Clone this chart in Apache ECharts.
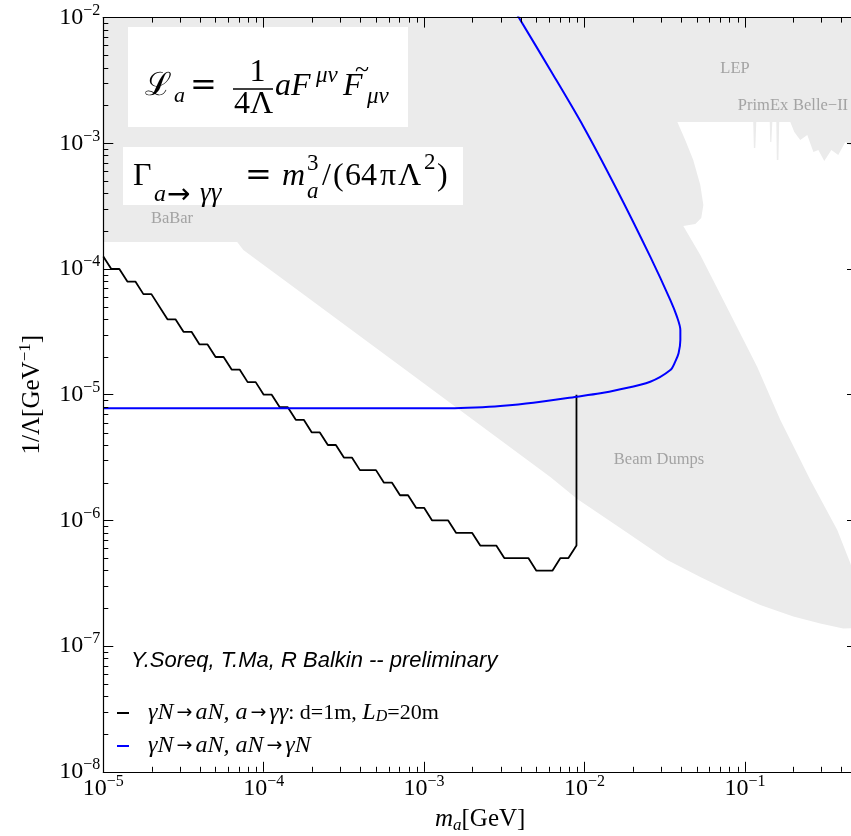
<!DOCTYPE html>
<html><head><meta charset="utf-8">
<script src="https://cdn.jsdelivr.net/npm/echarts@6/dist/echarts.min.js"></script>
<style>html,body{margin:0;padding:0;background:#fff}#c{width:851px;height:836px}</style>
</head><body><div id="c"></div>
<script>
// ---------------- data ----------------
const xMin = 1e-5, xMax = 0.5;
const yMin = 1e-8, yMax = 1e-2;
const xMajorTicks = [1e-5, 1e-4, 1e-3, 1e-2, 1e-1];
const yMajorTicks = [1e-8, 1e-7, 1e-6, 1e-5, 1e-4, 1e-3, 1e-2];

const blackName = 'γN→aN, a→γγ: d=1m, L_D=20m';
const blueName = 'γN→aN, aN→γN';

// m_a [GeV]
const blackMass = [1.000e-5, 1.122e-5, 1.259e-5, 1.413e-5, 1.585e-5, 1.778e-5, 1.995e-5, 2.512e-5, 2.818e-5, 3.162e-5,
  3.548e-5, 3.981e-5, 4.467e-5, 5.012e-5, 5.623e-5, 6.310e-5, 7.079e-5, 7.943e-5, 8.913e-5, 1.000e-4,
  1.122e-4, 1.259e-4, 1.413e-4, 1.585e-4, 1.778e-4, 1.995e-4, 2.239e-4, 2.512e-4, 2.818e-4, 3.162e-4,
  3.548e-4, 3.981e-4, 5.012e-4, 5.623e-4, 6.310e-4, 7.079e-4, 7.943e-4, 8.913e-4, 1.000e-3, 1.122e-3,
  1.413e-3, 1.585e-3, 1.995e-3, 2.239e-3, 2.818e-3, 3.162e-3, 4.467e-3, 5.012e-3, 6.310e-3, 7.079e-3,
  7.943e-3, 8.913e-3, 8.913e-3];
// 1/Lambda [GeV^-1]
const blackCoupling = [1.259e-4, 1.000e-4, 1.000e-4, 7.943e-5, 7.943e-5, 6.310e-5, 6.310e-5, 3.981e-5, 3.981e-5, 3.162e-5,
  3.162e-5, 2.512e-5, 2.512e-5, 1.995e-5, 1.995e-5, 1.585e-5, 1.585e-5, 1.259e-5, 1.259e-5, 1.000e-5,
  1.000e-5, 7.943e-6, 7.943e-6, 6.310e-6, 6.310e-6, 5.012e-6, 5.012e-6, 3.981e-6, 3.981e-6, 3.162e-6,
  3.162e-6, 2.512e-6, 2.512e-6, 1.995e-6, 1.995e-6, 1.585e-6, 1.585e-6, 1.259e-6, 1.259e-6, 1.000e-6,
  1.000e-6, 7.943e-7, 7.943e-7, 6.310e-7, 6.310e-7, 5.012e-7, 5.012e-7, 3.981e-7, 3.981e-7, 5.012e-7,
  5.012e-7, 6.310e-7, 1.000e-5];

const blueMass = [1.000e-5, 1.000e-3, 1.456e-3, 2.085e-3, 2.985e-3, 4.80e-3, 8.97e-3, 1.256e-2, 1.596e-2, 2.57e-2, 3.43e-2,
  3.68e-2, 3.86e-2, 3.96e-2, 3.96e-2, 3.77e-2, 3.43e-2, 2.57e-2, 1.596e-2, 9.86e-3, 6.12e-3, 3.81e-3];
const blueCoupling = [7.80e-6, 7.80e-6, 7.80e-6, 7.91e-6, 8.13e-6, 8.63e-6, 9.64e-6, 1.026e-5, 1.089e-5, 1.268e-5, 1.570e-5,
  1.832e-5, 2.133e-5, 2.722e-5, 3.27e-5, 4.18e-5, 5.66e-5, 1.253e-4, 4.25e-4, 1.355e-3, 3.83e-3, 1.05e-2];

// excluded region outline, as [log10 m_a, log10 1/Lambda]
const excludedRegionLog = [
  [-5.000, -2.000], [-0.300, -2.000], [-0.300, -2.974], [-0.337, -3.021], [-0.374, -2.990], [-0.418, -3.093],
  [-0.461, -3.053], [-0.505, -3.141], [-0.542, -3.053], [-0.573, -3.069], [-0.611, -2.934], [-0.655, -2.974],
  [-0.692, -2.910], [-0.717, -2.831], [-0.786, -2.831], [-0.791, -3.133], [-0.801, -3.133], [-0.804, -2.831],
  [-0.829, -2.831], [-0.835, -2.990], [-0.842, -2.990], [-0.845, -2.831], [-0.929, -2.831], [-0.935, -3.037],
  [-0.944, -3.037], [-0.948, -2.831], [-1.421, -2.831], [-1.372, -2.974], [-1.322, -3.133], [-1.278, -3.332],
  [-1.259, -3.491], [-1.272, -3.594], [-1.309, -3.642], [-1.384, -3.658], [-1.278, -3.889], [-1.135, -4.247],
  [-0.923, -4.780], [-0.779, -5.201], [-0.592, -5.679], [-0.424, -6.076], [-0.343, -6.339], [-0.300, -6.514],
  [-0.300, -6.856], [-0.387, -6.860], [-0.530, -6.820], [-0.698, -6.764], [-0.904, -6.673], [-1.072, -6.578],
  [-1.278, -6.450], [-1.484, -6.315], [-1.777, -6.060], [-2.045, -5.830], [-2.213, -5.655], [-3.148, -4.772],
  [-3.772, -4.183], [-4.127, -3.849], [-4.165, -3.785], [-5.000, -3.785]
];

// ---------------- helpers ----------------
const SERIF = "'Liberation Serif', 'Times New Roman', serif";
const SANS = "'Liberation Sans', Arial, sans-serif";
const ARROW = "'DejaVu Sans', sans-serif";
const zip = (a, b) => a.map((v, i) => [v, b[i]]);

const xMinorTicks = [];
for (let e = -5; e <= -1; e++) for (let m = 2; m <= 9; m++) { const v = m * Math.pow(10, e); if (v < xMax * 0.999) xMinorTicks.push(v); }
const yMinorTicks = [];
for (let e = -8; e <= -3; e++) for (let m = 2; m <= 9; m++) yMinorTicks.push(m * Math.pow(10, e));

function expLabel(ticks) {
  return function (v) {
    const lv = Math.log10(v);
    const hit = ticks.some(t => Math.abs(Math.log10(t) - lv) < 1e-6);
    if (!hit) return '';
    const e = Math.round(lv);
    return '{b|10}{s|' + (e < 0 ? '\u2212' + (-e) : String(e)) + '}';
  };
}
const labelRich = {
  b: { fontFamily: SERIF, fontSize: 24, lineHeight: 30, color: '#000' },
  s: { fontFamily: SERIF, fontSize: 16, verticalAlign: 'top', color: '#000' }
};
const axisBase = {
  type: 'log', logBase: 10,
  axisLine: { show: true, onZero: false, lineStyle: { color: '#000', width: 1.2 } },
  axisTick: { show: true, inside: true, length: 10, lineStyle: { color: '#000', width: 1 } },
  splitLine: { show: false }, minorTick: { show: false }, minorSplitLine: { show: false },
  z: 10, nameMoveOverlap: false
};

function T(text, x, y, size, o) {
  o = o || {};
  return {
    type: 'text', z: 6, silent: true,
    style: {
      text: text, x: x, y: y, fill: o.fill || '#000',
      fontFamily: o.family || SERIF, fontSize: size,
      fontStyle: o.italic ? 'italic' : 'normal',
      align: o.align || 'left', textAlign: o.align || 'left',
      verticalAlign: 'middle', textVerticalAlign: 'middle'
    }
  };
}
// y given as baseline -> convert to middle
function TB(text, x, base, size, o) { return T(text, x, base - 0.3375 * size, size, o); }

const DJ = "'DejaVu Serif', serif";
const grey = '#a3a3a3';

const graphics = [
  // formula boxes
  { type: 'rect', z: 4, silent: true, shape: { x: 128, y: 27, width: 280, height: 100 }, style: { fill: '#fff' } },
  { type: 'rect', z: 4, silent: true, shape: { x: 123, y: 147, width: 340, height: 58 }, style: { fill: '#fff' } },
  // L_a = 1/(4Λ) a F^{μν} F~_{μν}
  TB('ℒ', 145, 97, 32),
  TB('a', 174, 104, 22, { italic: true }),
  TB('=', 190, 97, 32, { family: DJ }),
  TB('1', 257.5, 83, 32, { align: 'center' }),
  { type: 'line', z: 6, silent: true, shape: { x1: 233, y1: 89, x2: 273, y2: 89 }, style: { stroke: '#000', lineWidth: 1.4 } },
  TB('4Λ', 253.5, 115, 32, { align: 'center' }),
  TB('aF', 275, 97, 32, { italic: true }),
  TB('μν', 316, 84, 23, { italic: true }),
  TB('F', 343, 97, 32, { italic: true }),
  T('~', 362, 70, 26, { align: 'center' }),
  TB('μν', 367, 105, 23, { italic: true }),
  // Γ_{a→γγ} = m_a^3/(64πΛ^2)
  TB('Γ', 133, 187, 32),
  TB('a', 154, 203, 24, { italic: true }),
  T('→', 167, 196, 28, { family: ARROW }),
  TB('γγ', 200, 203, 27, { italic: true }),
  TB('=', 245, 187, 32, { family: DJ }),
  TB('m', 282, 187, 32, { italic: true }),
  TB('3', 307, 172, 23),
  TB('a', 307, 200, 23, { italic: true }),
  TB('/', 322, 187, 32),
  TB('(', 333, 187, 32),
  TB('64', 345, 187, 32),
  TB('π', 380, 187, 32),
  TB('Λ', 398, 187, 32),
  TB('2', 424, 171, 23),
  TB(')', 437, 187, 32),
  // region labels
  T('LEP', 735, 69, 16.5, { align: 'center', fill: grey }),
  T('PrimEx', 763, 106, 16.5, { align: 'center', fill: grey }),
  T('Belle\u2212II', 793, 106, 16.5, { fill: grey }),
  T('BaBar', 172, 219, 16.5, { align: 'center', fill: grey }),
  T('Beam Dumps', 659, 460, 16.5, { align: 'center', fill: grey }),
  // credit
  T('Y.Soreq, T.Ma, R Balkin -- preliminary', 131, 661, 22, { italic: true, family: SANS })
];

const chart = echarts.init(document.getElementById('c'), null, { renderer: 'canvas', width: 851, height: 836 });
chart.setOption({
  animation: false,
  backgroundColor: '#fff',
  textStyle: { fontFamily: SERIF },
  grid: { left: 103.3, top: 17.6, width: 753.7, height: 754.2, outerBoundsMode: 'none', containLabel: false },
  xAxis: [
    Object.assign({}, axisBase, {
      position: 'bottom', min: xMin, max: xMax,
      axisLabel: { show: true, margin: 2, formatter: expLabel(xMajorTicks), rich: labelRich, showMaxLabel: false },
      name: '{i|m}{sub|a}{r|[GeV]}', nameLocation: 'middle', nameGap: 34,
      nameTextStyle: { rich: {
        i: { fontFamily: SERIF, fontSize: 25, fontStyle: 'italic', lineHeight: 28, color: '#000' },
        sub: { fontFamily: SERIF, fontSize: 17, fontStyle: 'italic', verticalAlign: 'bottom', color: '#000' },
        r: { fontFamily: SERIF, fontSize: 25, lineHeight: 28, color: '#000' } } }
    }),
    Object.assign({}, axisBase, { position: 'top', min: xMin, max: xMax, axisLabel: { show: false } })
  ],
  yAxis: [
    Object.assign({}, axisBase, {
      position: 'left', min: yMin, max: yMax,
      axisLabel: { show: true, margin: 3, formatter: expLabel(yMajorTicks), rich: labelRich },
      name: '{r|1/Λ[GeV}{s|\u22121}{r|]}', nameLocation: 'middle', nameGap: 56, nameRotate: 90,
      nameTextStyle: { rich: {
        r: { fontFamily: SERIF, fontSize: 25, lineHeight: 30, color: '#000' },
        s: { fontFamily: SERIF, fontSize: 17, verticalAlign: 'top', color: '#000' } } }
    }),
    Object.assign({}, axisBase, { position: 'right', min: yMin, max: yMax, axisLabel: { show: false } })
  ],
  legend: {
    data: [blackName, blueName], orient: 'vertical', left: 117, top: 701, padding: 0,
    itemWidth: 12, itemHeight: 2, itemGap: 9, icon: 'rect', selectedMode: false,
    textStyle: { color: '#000', fontFamily: SERIF, rich: {
      sp: { width: 14 },
      i: { fontFamily: SERIF, fontSize: 24, fontStyle: 'italic', lineHeight: 24, color: '#000' },
      r: { fontFamily: SERIF, fontSize: 22, lineHeight: 24, color: '#000' },
      ar: { fontFamily: ARROW, fontSize: 19, lineHeight: 24, padding: [0, 3], color: '#000' },
      sub: { fontFamily: SERIF, fontSize: 16, fontStyle: 'italic', verticalAlign: 'bottom', color: '#000' } } },
    formatter: function (name) {
      if (name === blackName) return '{sp| }{i|γN}{ar|→}{i|aN, a}{ar|→}{i|γγ}{r|: d=1m, }{i|L}{sub|D}{r|=20m}';
      return '{sp| }{i|γN}{ar|→}{i|aN, aN}{ar|→}{i|γN}';
    }
  },
  graphic: { elements: graphics },
  series: [
    {
      type: 'custom', name: 'excluded', coordinateSystem: 'cartesian2d', silent: true, z: 0,
      data: [[1e-3, 1e-5]],
      renderItem: function (params, api) {
        const pts = excludedRegionLog.map(p => api.coord([Math.pow(10, p[0]), Math.pow(10, p[1])]));
        return { type: 'polygon', shape: { points: pts }, style: { fill: '#ebebeb', stroke: null } };
      }
    },
    {
      type: 'line', name: blackName, data: zip(blackMass, blackCoupling), z: 3,
      showSymbol: false, symbol: 'none', color: '#000',
      itemStyle: { color: '#000' }, lineStyle: { color: '#000', width: 1.8 }
    },
    {
      type: 'line', name: blueName, data: zip(blueMass, blueCoupling), z: 4, smooth: 0.3,
      showSymbol: false, symbol: 'none', color: '#0000ff',
      itemStyle: { color: '#0000ff' }, lineStyle: { color: '#0000ff', width: 2 }
    },
    {
      type: 'custom', name: 'minorTicks', coordinateSystem: 'cartesian2d', silent: true, z: 10,
      data: [[1e-3, 1e-5]],
      renderItem: function (params, api) {
        const cs = params.coordSys; const L = 5; const ch = [];
        const st = { stroke: '#000', lineWidth: 1 };
        xMinorTicks.forEach(v => {
          const px = Math.round(api.coord([v, yMin])[0]) + 0.5;
          ch.push({ type: 'line', shape: { x1: px, y1: cs.y + cs.height, x2: px, y2: cs.y + cs.height - L }, style: st });
          ch.push({ type: 'line', shape: { x1: px, y1: cs.y, x2: px, y2: cs.y + L }, style: st });
        });
        yMinorTicks.forEach(v => {
          const py = Math.round(api.coord([xMin, v])[1]) + 0.5;
          ch.push({ type: 'line', shape: { x1: cs.x, y1: py, x2: cs.x + L, y2: py }, style: st });
          ch.push({ type: 'line', shape: { x1: cs.x + cs.width, y1: py, x2: cs.x + cs.width - L, y2: py }, style: st });
        });
        return { type: 'group', children: ch };
      }
    }
  ]
});
</script>
</body></html>
